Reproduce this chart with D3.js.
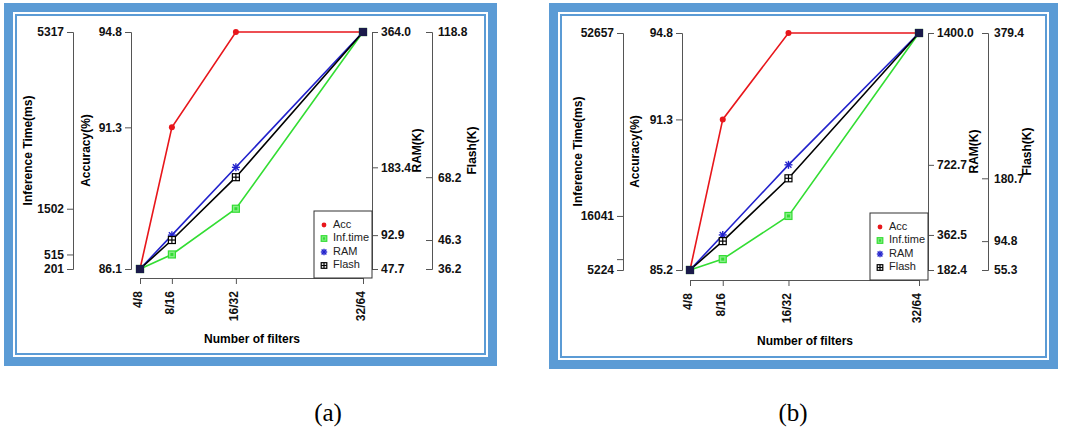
<!DOCTYPE html>
<html><head><meta charset="utf-8">
<script src="https://cdn.jsdelivr.net/npm/d3@7"></script>
<style>body{margin:0;background:#fff}</style></head>
<body><svg id="c" width="1076" height="446"></svg>
<script>
const categories = ["4/8","8/16","16/32","32/64"];
const categoryPos = [4, 8, 16, 32];
// Panel (a)
const accA = [86.1, 91.3, 94.8, 94.8];
const infA = [201, 515, 1502, 5317];
const ramA = [47.7, 92.9, 183.4, 364.0];
const flashA = [36.2, 46.3, 68.2, 118.8];
const infTicksA = [201, 515, 1502, 5317];
const accTicksA = [86.1, 91.3, 94.8];
const ramTicksA = [47.7, 92.9, 183.4, 364.0];
const flashTicksA = [36.2, 46.3, 68.2, 118.8];
// Panel (b)
const accB = [85.2, 91.3, 94.8, 94.8];
const infB = [5224, 7400, 16041, 52657];
const ramB = [182.4, 362.5, 722.7, 1400.0];
const flashB = [55.3, 94.8, 180.7, 379.4];
const infTicksB = [5224, 7400, 16041, 52657];
const infLabelsB = ["5224", "", "16041", "52657"];
const accTicksB = [85.2, 91.3, 94.8];
const ramTicksB = [182.4, 362.5, 722.7, 1400.0];
const flashTicksB = [55.3, 94.8, 180.7, 379.4];
const legendLabels = ["Acc", "Inf.time", "RAM", "Flash"];
const captions = ["(a)", "(b)"];

const svg = d3.select("#c");
const BLUE = "#5b9bd5";

function panel(o) {
  const g = svg.append("g");
  g.append("rect").attr("x", o.box[0]).attr("y", o.box[1]).attr("width", o.box[2]).attr("height", o.box[3]).attr("fill", BLUE);
  g.append("rect").attr("x", o.box[0]+9).attr("y", o.box[1]+9).attr("width", o.box[2]-18).attr("height", o.box[3]-18).attr("fill", "#fff");
  g.append("rect").attr("x", o.box[0]+12).attr("y", o.box[1]+12).attr("width", o.box[2]-24).attr("height", o.box[3]-24).attr("fill", "none").attr("stroke", BLUE).attr("stroke-width", 2);

  const xi = d3.scaleLinear().domain([4, 8, 16, 32]).range([o.x0, o.x0 + (o.x1-o.x0)*0.143, o.x0 + (o.x1-o.x0)*0.43, o.x1]);
  const mk = (dom) => d3.scaleLinear().domain(dom).range([o.yb, o.yt]);
  const yAcc = mk([o.acc[0], o.accTicks[o.accTicks.length-1]]);
  const yInf = mk([o.infTicks[0], o.infTicks[o.infTicks.length-1]]);
  const yRam = mk([o.ramTicks[0], o.ramTicks[o.ramTicks.length-1]]);
  const yFl = mk([o.flashTicks[0], o.flashTicks[o.flashTicks.length-1]]);
  const font = "Liberation Sans, Arial, sans-serif";

  function axis(gen, xp, ticks, labels) {
    const a = g.append("g").attr("transform", `translate(${xp},0)`)
      .call(gen.tickValues(ticks).tickSize(6).tickFormat((d,i)=>labels ? labels[i] : d3.format(".1f")(d)));
    a.select(".domain").attr("stroke", "#555");
    a.selectAll(".tick line").attr("stroke", "#555");
    a.selectAll("text").attr("font-family", font).attr("font-size", 12).attr("font-weight", "bold").attr("fill", "#111");
    return a;
  }
  axis(d3.axisLeft(yInf), o.axInf, o.infTicks, o.infLabels || o.infTicks.map(String));
  axis(d3.axisLeft(yAcc), o.axAcc, o.accTicks);
  axis(d3.axisRight(yRam), o.axRam, o.ramTicks);
  axis(d3.axisLeft(yFl), o.axFl, o.flashTicks).selectAll("text").attr("text-anchor", "start").attr("x", 6);

  const xa = g.append("g").attr("transform", `translate(0,${o.yx})`)
    .call(d3.axisBottom(xi).tickValues(categoryPos).tickSize(6).tickFormat((d,i)=>categories[i]));
  xa.select(".domain").attr("stroke", "#555");
  xa.selectAll(".tick line").attr("stroke", "#555");
  xa.selectAll("text").attr("font-family", font).attr("font-size", 12).attr("font-weight", "bold").attr("fill", "#111")
    .attr("transform", "rotate(-90)").attr("text-anchor", "end").attr("dx", "-0.6em").attr("dy", "-0.1em").attr("y", 0).attr("x", -6)
    .attr("dominant-baseline", "middle");

  const titles = [["Inference Time(ms)", o.tInf], ["Accuracy(%)", o.tAcc], ["RAM(K)", o.tRam], ["Flash(K)", o.tFl]];
  titles.forEach(([t, xp]) => g.append("text").attr("transform", `translate(${xp},${(o.yt+o.yb)/2}) rotate(-90)`)
    .attr("text-anchor", "middle").attr("dominant-baseline", "middle").attr("font-family", font).attr("font-size", 12).attr("font-weight", "bold").text(t));
  g.append("text").attr("x", o.tX).attr("y", o.tXy).attr("text-anchor", "middle").attr("font-family", font).attr("font-size", 12).attr("font-weight", "bold").text("Number of filters");

  g.append("rect").attr("x", o.leg[0]).attr("y", o.leg[1]).attr("width", o.leg[2]).attr("height", o.leg[3]).attr("fill", "#fff").attr("stroke", "#333");

  const series = [
    {v: o.acc, y: yAcc, c: "#e8161b", m: "circle"},
    {v: o.inf, y: yInf, c: "#33dd33", m: "sqx"},
    {v: o.ram, y: yRam, c: "#2222cc", m: "star"},
    {v: o.flash, y: yFl, c: "#000", m: "sqp"}
  ];
  const line = (s) => d3.line().x((d,i)=>xi(categoryPos[i])).y(d=>s.y(d));
  function marker(sel, m, c, cx, cy, sz) {
    const k = sz || 1;
    if (m === "circle") sel.append("circle").attr("cx", cx).attr("cy", cy).attr("r", 3*k).attr("fill", c);
    else if (m === "star") {
      const p = sel.append("g").attr("stroke", c).attr("stroke-width", 1.4);
      [[-4,0,4,0],[0,-4,0,4],[-3,-3,3,3],[-3,3,3,-3]].forEach(l=>p.append("line").attr("x1",cx+l[0]*k).attr("y1",cy+l[1]*k).attr("x2",cx+l[2]*k).attr("y2",cy+l[3]*k));
    } else {
      const h = 3.5*k;
      const p = sel.append("g").attr("stroke", c).attr("stroke-width", 1.2);
      p.append("rect").attr("x", cx-h).attr("y", cy-h).attr("width", 2*h).attr("height", 2*h).attr("fill", m === "sqp" ? "#fff" : "#8e8");
      if (m === "sqp") { p.append("line").attr("x1",cx-h).attr("x2",cx+h).attr("y1",cy).attr("y2",cy); p.append("line").attr("y1",cy-h).attr("y2",cy+h).attr("x1",cx).attr("x2",cx); }
      else p.append("rect").attr("x", cx-1.5*k).attr("y", cy-1.5*k).attr("width", 3*k).attr("height", 3*k).attr("fill", c).attr("stroke", "none");
    }
  }
  series.forEach(s => g.append("path").datum(s.v).attr("d", line(s)).attr("fill", "none").attr("stroke", s.c).attr("stroke-width", 1.6));
  series.forEach(s => s.v.forEach((d,i) => marker(g, s.m, s.c, xi(categoryPos[i]), s.y(d))));
  // overlapping markers at shared first/last points appear as dark navy blobs
  [0, 3].forEach(i => g.append("rect").attr("x", xi(categoryPos[i])-4).attr("y", yFl(o.flash[i])-4).attr("width", 8).attr("height", 8).attr("fill", "#1a1a4a"));
  series.forEach((s, k) => {
    const ly = o.leg[1] + 14 + k*13.5;
    marker(g, s.m, s.c, o.leg[0] + 10, ly, 0.8);
    g.append("text").attr("x", o.leg[0] + 19).attr("y", ly).attr("dominant-baseline", "middle").attr("font-family", font).attr("font-size", 11).attr("fill", "#222").text(legendLabels[k]);
  });

  g.append("text").attr("x", o.cap[0]).attr("y", o.cap[1]).attr("text-anchor", "middle").attr("font-family", "Liberation Serif, Times New Roman, serif").attr("font-size", 25).text(o.caption);
}

panel({box:[4,3,493,363], x0:140, x1:363, yt:32, yb:269, yx:278,
  acc:accA, inf:infA, ram:ramA, flash:flashA,
  infTicks:infTicksA, accTicks:accTicksA, ramTicks:ramTicksA, flashTicks:flashTicksA,
  axInf:73, axAcc:131, axRam:372, axFl:432, tInf:29, tAcc:87, tRam:418, tFl:473, tX:252, tXy:343,
  leg:[314,211,58,67], cap:[328,421], caption:captions[0]});
panel({box:[549,3,509,366], x0:690, x1:919, yt:33, yb:270, yx:280,
  acc:accB, inf:infB, ram:ramB, flash:flashB,
  infTicks:infTicksB, infLabels:infLabelsB, accTicks:accTicksB, ramTicks:ramTicksB, flashTicks:flashTicksB,
  axInf:623, axAcc:682, axRam:928, axFl:988, tInf:579, tAcc:636, tRam:975, tFl:1028, tX:805, tXy:345,
  leg:[870,213,58,67], cap:[793,421], caption:captions[1]});
</script></body></html>
